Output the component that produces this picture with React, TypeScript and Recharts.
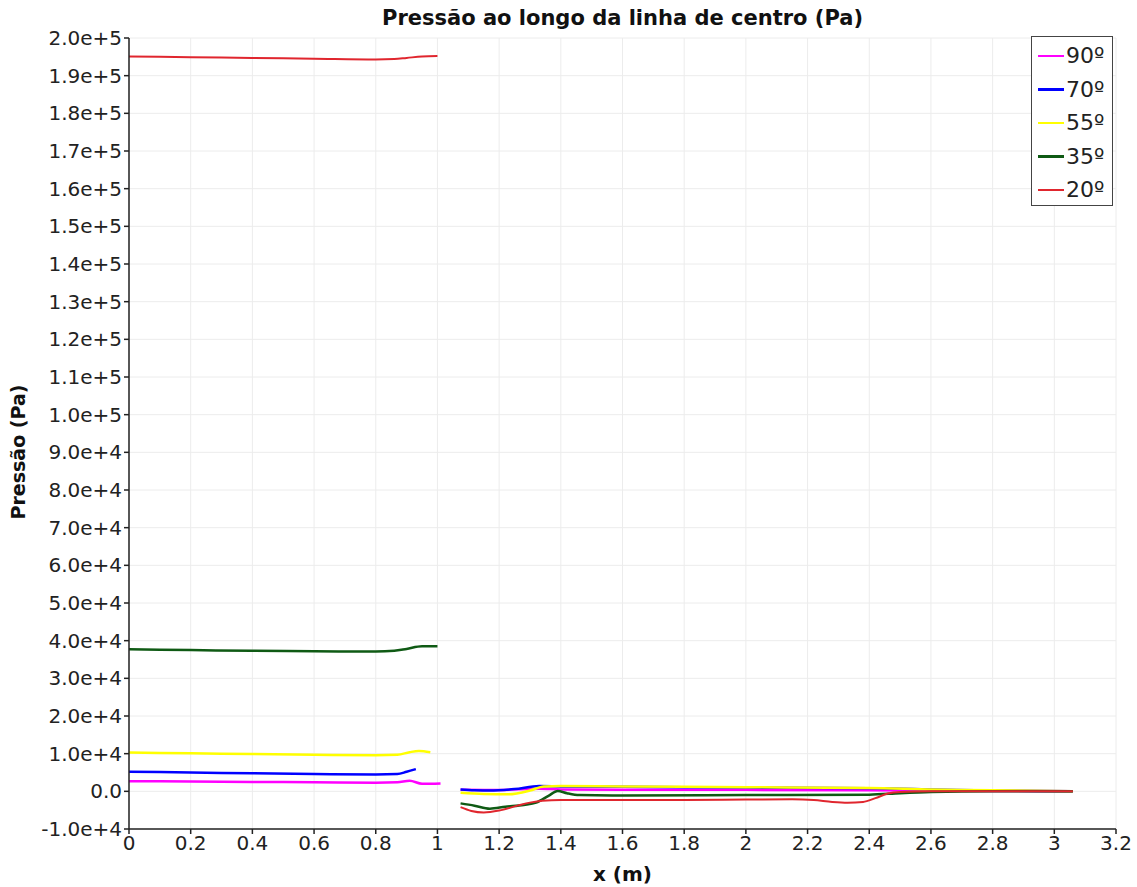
import React from "react";
import { LineChart, Line, XAxis, YAxis, CartesianGrid } from "recharts";

// x positions (m) and pressures (Pa)
const x90Left = [0, 0.2, 0.4, 0.6, 0.8, 0.87, 0.91, 0.95, 1.01];
const p90Left = [2700, 2600, 2500, 2400, 2300, 2400, 2800, 2000, 2100];
const x90Right = [1.075, 1.2, 1.33, 1.4, 1.6, 2.0, 2.4, 2.6, 2.8, 3.06];
const p90Right = [400, 350, 700, 500, 400, 400, 300, 200, 100, 0];

const x70Left = [0, 0.2, 0.4, 0.6, 0.8, 0.87, 0.9, 0.93];
const p70Left = [5200, 5000, 4800, 4600, 4500, 4600, 5200, 5900];
const x70Right = [1.075, 1.12, 1.17, 1.25, 1.33, 1.4, 1.6, 2.0, 2.4, 2.6, 2.8, 3.06];
const p70Right = [500, 300, 200, 600, 1400, 1300, 1200, 1000, 800, 500, 200, 0];

const x55Left = [0, 0.2, 0.4, 0.6, 0.8, 0.87, 0.91, 0.94, 0.977];
const p55Left = [10300, 10100, 9900, 9700, 9600, 9700, 10400, 10700, 10400];
const x55Right = [1.075, 1.15, 1.23, 1.3, 1.345, 1.4, 1.6, 2.0, 2.4, 2.6, 2.8, 3.06];
const p55Right = [-400, -700, -800, 200, 1300, 1400, 1300, 1100, 900, 500, 300, 0];

const x35Left = [0, 0.2, 0.4, 0.6, 0.8, 0.86, 0.9, 0.95, 1.0];
const p35Left = [37700, 37500, 37300, 37200, 37100, 37300, 37800, 38500, 38500];
const x35Right = [1.075, 1.12, 1.17, 1.22, 1.28, 1.32, 1.36, 1.39, 1.42, 1.46, 1.6, 2.0, 2.4, 2.5, 2.6, 2.8, 3.06];
const p35Right = [-3200, -3800, -4600, -4100, -3600, -3000, -1200, 100, -500, -1000, -1100, -1000, -900, -500, -200, 0, 0];

const x20Left = [0, 0.2, 0.4, 0.6, 0.8, 0.86, 0.9, 0.95, 1.0];
const p20Left = [195100, 194900, 194700, 194500, 194300, 194400, 194700, 195100, 195200];
const x20Right = [1.075, 1.11, 1.15, 1.2, 1.26, 1.3, 1.34, 1.4, 1.6, 1.8, 2.0, 2.15, 2.22, 2.28, 2.33, 2.38, 2.42, 2.46, 2.5, 2.6, 2.8, 3.06];
const p20Right = [-4200, -5200, -5600, -5100, -3800, -3000, -2500, -2300, -2300, -2300, -2200, -2100, -2300, -2800, -3000, -2800, -1800, -600, -200, 0, 0, 0];

const xTicks = [0, 0.2, 0.4, 0.6, 0.8, 1, 1.2, 1.4, 1.6, 1.8, 2, 2.2, 2.4, 2.6, 2.8, 3, 3.2];
const yTicks = [
  -10000, 0, 10000, 20000, 30000, 40000, 50000, 60000, 70000, 80000, 90000, 100000,
  110000, 120000, 130000, 140000, 150000, 160000, 170000, 180000, 190000, 200000,
];

const build = (xl: number[], pl: number[], xr: number[], pr: number[]) => [
  ...xl.map((x, i) => ({ x, p: pl[i] })),
  { x: 1.04, p: null },
  ...xr.map((x, i) => ({ x, p: pr[i] })),
];

const series = [
  { name: "90º", color: "#ff00ff", width: 2.5, data: build(x90Left, p90Left, x90Right, p90Right) },
  { name: "70º", color: "#0000ff", width: 2.5, data: build(x70Left, p70Left, x70Right, p70Right) },
  { name: "55º", color: "#ffff00", width: 2.5, data: build(x55Left, p55Left, x55Right, p55Right) },
  { name: "35º", color: "#0f5a14", width: 2.5, data: build(x35Left, p35Left, x35Right, p35Right) },
  { name: "20º", color: "#e0262e", width: 2, data: build(x20Left, p20Left, x20Right, p20Right) },
];

const font = "'DejaVu Sans', sans-serif";

const fmtY = (v: number) => (v === 0 ? "0.0" : v.toExponential(1));
const fmtX = (v: number) => String(Number(v.toFixed(1)));

function LegendBox() {
  return (
    <div
      style={{
        position: "absolute",
        left: 1031,
        top: 36,
        width: 82,
        height: 170,
        border: "1px solid #444",
        background: "#fff",
        fontFamily: font,
        paddingTop: 2,
        boxSizing: "border-box",
      }}
    >
      {series.map((s) => (
        <div key={s.name} style={{ display: "flex", alignItems: "center", height: 33.5 }}>
          <div style={{ width: 26, height: 2.5, background: s.color, marginLeft: 6, marginRight: 2 }} />
          <span style={{ fontSize: 22, color: "#222" }}>{s.name}</span>
        </div>
      ))}
    </div>
  );
}

export default function App() {
  return (
    <div style={{ position: "absolute", left: 0, top: 0, width: 1137, height: 887, background: "#fff" }}>
      <LineChart width={1137} height={887} margin={{ top: 38, right: 21, bottom: 18, left: 0 }}>
        <CartesianGrid stroke="#ececec" strokeWidth={1} />
        <XAxis
          dataKey="x"
          type="number"
          domain={[0, 3.2]}
          ticks={xTicks}
          tickFormatter={fmtX}
          interval={0}
          height={40}
          allowDataOverflow
          stroke="#222"
          strokeWidth={1.5}
          tickSize={5}
          tick={{ fontSize: 20, fill: "#222", fontFamily: font }}
        />
        <YAxis
          type="number"
          domain={[-10000, 200000]}
          ticks={yTicks}
          tickFormatter={fmtY}
          interval={0}
          width={129}
          allowDataOverflow
          stroke="#222"
          strokeWidth={1.5}
          tickSize={5}
          tick={{ fontSize: 20, fill: "#222", fontFamily: font }}
        />
        {series.map((s) => (
          <Line
            key={s.name}
            name={s.name}
            data={s.data}
            dataKey="p"
            type="monotone"
            stroke={s.color}
            strokeWidth={s.width}
            dot={false}
            activeDot={false}
            connectNulls={false}
            isAnimationActive={false}
          />
        ))}
      </LineChart>
      <div
        style={{
          position: "absolute",
          left: 0,
          width: 1245,
          top: 6,
          textAlign: "center",
          fontFamily: font,
          fontWeight: "bold",
          fontSize: 21,
          color: "#111",
        }}
      >
        Pressão ao longo da linha de centro (Pa)
      </div>
      <div
        style={{
          position: "absolute",
          left: 18,
          top: 452,
          transform: "translate(-50%, -50%) rotate(-90deg)",
          fontFamily: font,
          fontWeight: "bold",
          fontSize: 19,
          color: "#111",
          whiteSpace: "nowrap",
        }}
      >
        Pressão (Pa)
      </div>
      <div
        style={{
          position: "absolute",
          left: 0,
          width: 1245,
          top: 862,
          textAlign: "center",
          fontFamily: font,
          fontWeight: "bold",
          fontSize: 20,
          color: "#111",
        }}
      >
        x (m)
      </div>
      <LegendBox />
    </div>
  );
}
